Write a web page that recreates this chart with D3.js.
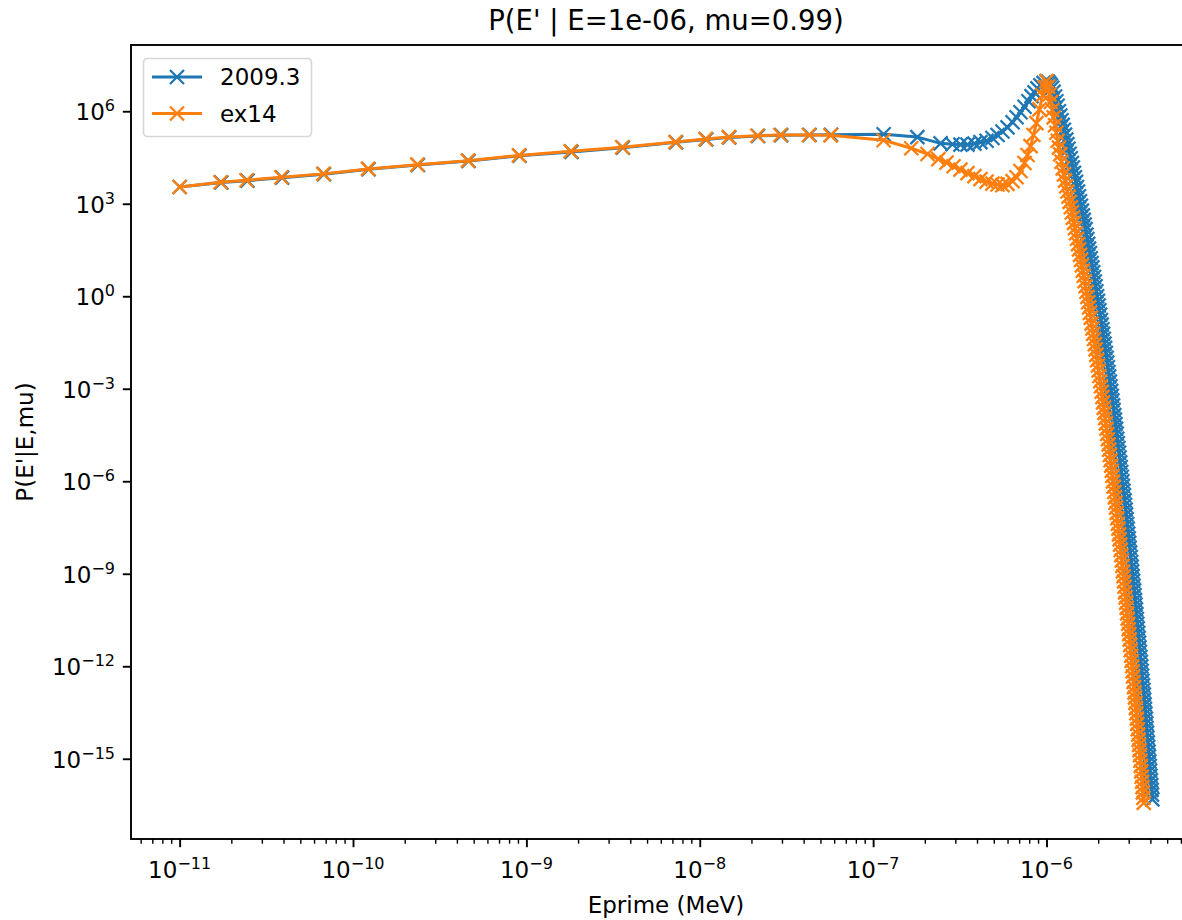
<!DOCTYPE html>
<html><head><meta charset="utf-8">
<script src="https://cdn.jsdelivr.net/npm/d3@7"></script>
<style>
body{margin:0;background:#fff}
svg{display:block}
text{font-family:"DejaVu Sans",sans-serif;fill:#000}
</style>
</head><body>
<svg id="chart" width="1182" height="920"></svg>
<script>
// ---------------- data ----------------
const seriesNames = ["2009.3", "ex14"];
const seriesColors = ["#1f77b4", "#ff7f0e"];

const energy2009 = [
  1.0e-11, 1.74e-11, 2.46e-11, 3.9e-11, 6.8e-11, 1.23e-10, 2.37e-10, 4.64e-10, 9.14e-10, 1.82e-9,
  3.6e-9, 7.3e-9, 1.09e-8, 1.48e-8, 2.17e-8, 2.95e-8, 4.3e-8, 5.72e-8,
  1.15e-7, 1.80e-7, 2.45e-7, 2.87e-7, 3.19e-7, 3.50e-7, 3.84e-7, 4.16e-7, 4.51e-7, 4.88e-7,
  5.22e-7, 5.57e-7, 5.96e-7, 6.37e-7, 6.72e-7, 7.08e-7, 7.47e-7, 7.87e-7, 8.19e-7, 8.53e-7,
  8.87e-7, 9.23e-7, 9.61e-7, 1.0e-6,
  1.02e-6, 1.04e-6, 1.06e-6, 1.08e-6, 1.10e-6, 1.12e-6, 1.14e-6, 1.16e-6, 1.18e-6, 1.20e-6,
  1.22e-6, 1.24e-6, 1.26e-6, 1.28e-6, 1.30e-6, 1.32e-6, 1.34e-6, 1.36e-6, 1.38e-6, 1.40e-6,
  1.42e-6, 1.44e-6, 1.46e-6, 1.48e-6, 1.50e-6, 1.52e-6, 1.54e-6, 1.56e-6, 1.58e-6, 1.60e-6,
  1.62e-6, 1.64e-6, 1.66e-6, 1.68e-6, 1.70e-6, 1.72e-6, 1.74e-6, 1.76e-6, 1.78e-6, 1.80e-6,
  1.82e-6, 1.84e-6, 1.86e-6, 1.88e-6, 1.90e-6, 1.92e-6, 1.94e-6, 1.96e-6, 1.98e-6, 2.00e-6,
  2.02e-6, 2.04e-6, 2.06e-6, 2.08e-6, 2.10e-6, 2.12e-6, 2.14e-6, 2.16e-6, 2.18e-6, 2.20e-6,
  2.22e-6, 2.24e-6, 2.26e-6, 2.28e-6, 2.30e-6, 2.32e-6, 2.34e-6, 2.36e-6, 2.38e-6, 2.40e-6,
  2.42e-6, 2.44e-6, 2.46e-6, 2.48e-6, 2.50e-6, 2.52e-6, 2.54e-6, 2.56e-6, 2.58e-6, 2.60e-6,
  2.62e-6, 2.64e-6, 2.66e-6, 2.68e-6, 2.70e-6, 2.72e-6, 2.74e-6, 2.76e-6, 2.78e-6, 2.80e-6,
  2.82e-6, 2.84e-6, 2.86e-6, 2.88e-6, 2.90e-6, 2.92e-6, 2.94e-6, 2.96e-6, 2.98e-6, 3.00e-6,
  3.02e-6, 3.04e-6, 3.06e-6, 3.08e-6, 3.10e-6, 3.12e-6, 3.14e-6, 3.16e-6, 3.18e-6, 3.20e-6,
  3.22e-6, 3.24e-6, 3.26e-6, 3.28e-6, 3.30e-6, 3.32e-6, 3.34e-6, 3.36e-6, 3.38e-6, 3.40e-6,
  3.42e-6, 3.44e-6, 3.46e-6, 3.48e-6, 3.50e-6, 3.52e-6, 3.54e-6, 3.56e-6, 3.58e-6, 3.60e-6,
  3.62e-6, 3.64e-6, 3.66e-6, 3.68e-6, 3.70e-6, 3.72e-6, 3.74e-6, 3.76e-6, 3.78e-6, 3.80e-6,
  3.82e-6, 3.84e-6, 3.86e-6, 3.88e-6, 3.90e-6, 3.92e-6, 3.94e-6, 3.96e-6, 3.98e-6, 4.00e-6,
  4.02e-6, 4.04e-6, 4.06e-6, 4.08e-6
];
const prob2009 = [
  3.5e3, 4.9e3, 5.6e3, 7.0e3, 9.1e3, 1.32e4, 1.8e4, 2.45e4, 3.6e4, 4.8e4,
  6.6e4, 9.8e4, 1.22e5, 1.42e5, 1.58e5, 1.68e5, 1.7e5, 1.72e5,
  1.8e5, 1.45e5, 9.1e4, 8.5e4, 8.3e4, 8.3e4, 8.9e4, 1.0e5, 1.1e5, 1.35e5,
  1.7e5, 2.2e5, 3.0e5, 4.4e5, 6.4e5, 9.3e5, 1.4e6, 2.1e6, 3.1e6, 4.1e6,
  5.5e6, 6.9e6, 8.3e6, 9.3e6,
  9.1e6, 7.9e6, 6.9e6, 5.8e6, 4.3e6,
  3.0e6, 2.1e6, 1.5e6, 1.0e6, 7.2e5, 5.1e5, 3.6e5, 2.5e5, 1.75e5, 1.2e5,
  8.6e4, 6.1e4, 4.2e4, 3.0e4, 2.1e4, 1.5e4, 1.0e4, 7.2e3, 5.1e3, 3.5e3,
  2.5e3, 1.75e3, 1.2e3, 8.6e2, 6.0e2, 4.2e2, 3.0e2, 2.1e2, 1.5e2, 1.0e2,
  72, 50, 35, 25, 17, 12, 8.6, 6.0, 4.2, 3.0,
  2.1, 1.45, 1.0, 0.71, 0.50, 0.35, 0.25, 0.17, 0.12, 0.085,
  0.060, 0.042, 0.029, 0.021, 0.0145, 0.010, 7.1e-3, 5.0e-3, 3.5e-3, 2.5e-3,
  1.7e-3, 1.2e-3, 8.5e-4, 5.9e-4, 4.2e-4, 2.9e-4, 2.05e-4, 1.4e-4, 1.0e-4, 7.1e-5,
  5.0e-5, 3.5e-5, 2.4e-5, 1.7e-5, 1.2e-5, 8.4e-6, 5.9e-6, 4.1e-6, 2.9e-6, 2.0e-6,
  1.4e-6, 1.0e-6, 7.0e-7, 4.9e-7, 3.5e-7, 2.4e-7, 1.7e-7, 1.2e-7, 8.4e-8, 5.9e-8,
  4.1e-8, 2.9e-8, 2.0e-8, 1.4e-8, 1.0e-8, 7.0e-9, 4.9e-9, 3.5e-9, 2.4e-9, 1.7e-9,
  1.2e-9, 8.4e-10, 5.9e-10, 4.1e-10, 2.9e-10, 2.0e-10, 1.4e-10, 1.0e-10, 7.0e-11, 4.9e-11,
  3.4e-11, 2.4e-11, 1.7e-11, 1.2e-11, 8.3e-12, 5.8e-12, 4.1e-12, 2.9e-12, 2.0e-12, 1.4e-12,
  9.9e-13, 7.0e-13, 4.9e-13, 3.4e-13, 2.4e-13, 1.7e-13, 1.2e-13, 8.3e-14, 5.8e-14, 4.1e-14,
  2.9e-14, 2.0e-14, 1.4e-14, 9.9e-15, 6.9e-15, 4.9e-15, 3.4e-15, 2.4e-15, 1.7e-15, 1.2e-15,
  8.2e-16, 5.8e-16, 4.1e-16, 2.8e-16, 2.0e-16, 1.4e-16, 9.8e-17, 6.9e-17, 4.8e-17
];

const energyEx14 = [
  1.0e-11, 1.72e-11, 2.43e-11, 3.86e-11, 6.74e-11, 1.22e-10, 2.35e-10, 4.60e-10, 9.06e-10, 1.80e-9,
  3.57e-9, 7.24e-9, 1.08e-8, 1.47e-8, 2.15e-8, 2.92e-8, 4.26e-8, 5.68e-8,
  1.15e-7, 1.66e-7, 2.06e-7, 2.38e-7, 2.65e-7, 2.91e-7, 3.19e-7, 3.50e-7, 3.84e-7, 4.16e-7,
  4.51e-7, 4.88e-7, 5.22e-7, 5.57e-7, 5.96e-7, 6.37e-7, 6.72e-7, 7.08e-7, 7.47e-7, 7.77e-7,
  8.09e-7, 8.41e-7, 8.75e-7, 9.11e-7, 9.49e-7, 9.74e-7, 1.0e-6,
  1.02e-6, 1.04e-6, 1.06e-6, 1.08e-6, 1.10e-6, 1.12e-6, 1.14e-6, 1.16e-6, 1.18e-6, 1.20e-6,
  1.22e-6, 1.24e-6, 1.26e-6, 1.28e-6, 1.30e-6, 1.32e-6, 1.34e-6, 1.36e-6, 1.38e-6, 1.40e-6,
  1.42e-6, 1.44e-6, 1.46e-6, 1.48e-6, 1.50e-6, 1.52e-6, 1.54e-6, 1.56e-6, 1.58e-6, 1.60e-6,
  1.62e-6, 1.64e-6, 1.66e-6, 1.68e-6, 1.70e-6, 1.72e-6, 1.74e-6, 1.76e-6, 1.78e-6, 1.80e-6,
  1.82e-6, 1.84e-6, 1.86e-6, 1.88e-6, 1.90e-6, 1.92e-6, 1.94e-6, 1.96e-6, 1.98e-6, 2.00e-6,
  2.02e-6, 2.04e-6, 2.06e-6, 2.08e-6, 2.10e-6, 2.12e-6, 2.14e-6, 2.16e-6, 2.18e-6, 2.20e-6,
  2.22e-6, 2.24e-6, 2.26e-6, 2.28e-6, 2.30e-6, 2.32e-6, 2.34e-6, 2.36e-6, 2.38e-6, 2.40e-6,
  2.42e-6, 2.44e-6, 2.46e-6, 2.48e-6, 2.50e-6, 2.52e-6, 2.54e-6, 2.56e-6, 2.58e-6, 2.60e-6,
  2.62e-6, 2.64e-6, 2.66e-6, 2.68e-6, 2.70e-6, 2.72e-6, 2.74e-6, 2.76e-6, 2.78e-6, 2.80e-6,
  2.82e-6, 2.84e-6, 2.86e-6, 2.88e-6, 2.90e-6, 2.92e-6, 2.94e-6, 2.96e-6, 2.98e-6, 3.00e-6,
  3.02e-6, 3.04e-6, 3.06e-6, 3.08e-6, 3.10e-6, 3.12e-6, 3.14e-6, 3.16e-6, 3.18e-6, 3.20e-6,
  3.22e-6, 3.24e-6, 3.26e-6, 3.28e-6, 3.30e-6, 3.32e-6, 3.34e-6, 3.36e-6, 3.38e-6, 3.40e-6,
  3.42e-6, 3.44e-6, 3.46e-6, 3.48e-6, 3.50e-6, 3.52e-6, 3.54e-6, 3.56e-6, 3.58e-6, 3.60e-6,
  3.62e-6, 3.64e-6
];
const probEx14 = [
  3.5e3, 5.0e3, 5.8e3, 7.2e3, 9.3e3, 1.35e4, 1.85e4, 2.5e4, 3.7e4, 5.0e4,
  6.8e4, 1.0e5, 1.25e5, 1.45e5, 1.6e5, 1.7e5, 1.7e5, 1.65e5,
  1.15e5, 6.3e4, 4.1e4, 2.8e4, 2.15e4, 1.65e4, 1.28e4, 9.8e3, 7.9e3, 6.3e3,
  5.2e3, 4.5e3, 4.2e3, 4.0e3, 4.4e3, 5.4e3, 7.2e3, 1.15e4, 2.1e4, 3.8e4,
  7.4e4, 1.7e5, 4.1e5, 1.15e6, 3.3e6, 6.0e6, 9.5e6,
  6.3e6, 3.5e6, 2.0e6, 1.1e6, 6.3e5, 3.5e5, 2.0e5, 1.1e5, 6.6e4, 4.0e4,
  2.3e4, 1.4e4, 8.9e3, 5.6e3, 3.7e3, 2.5e3,
  1.7e3, 1.15e3, 7.7e2, 5.2e2, 3.5e2, 2.4e2, 1.6e2, 1.1e2, 73, 49,
  33, 22, 15, 10, 6.8, 4.6, 3.1, 2.1, 1.4, 0.95,
  0.64, 0.43, 0.29, 0.20, 0.13, 0.090, 0.061, 0.041, 0.028, 0.019,
  0.0126, 8.5e-3, 5.7e-3, 3.9e-3, 2.6e-3, 1.75e-3, 1.2e-3, 8.0e-4, 5.4e-4, 3.6e-4,
  2.4e-4, 1.65e-4, 1.1e-4, 7.5e-5, 5.1e-5, 3.4e-5, 2.3e-5, 1.55e-5, 1.05e-5, 7.1e-6,
  4.8e-6, 3.2e-6, 2.2e-6, 1.5e-6, 9.9e-7, 6.7e-7, 4.5e-7, 3.0e-7, 2.0e-7, 1.4e-7,
  9.3e-8, 6.3e-8, 4.2e-8, 2.9e-8, 1.9e-8, 1.3e-8, 8.8e-9, 5.9e-9, 4.0e-9, 2.7e-9,
  1.8e-9, 1.2e-9, 8.3e-10, 5.6e-10, 3.8e-10, 2.5e-10, 1.7e-10, 1.15e-10, 7.8e-11, 5.2e-11,
  3.5e-11, 2.4e-11, 1.6e-11, 1.1e-11, 7.3e-12, 4.9e-12, 3.3e-12, 2.2e-12, 1.5e-12, 1.0e-12,
  6.9e-13, 4.7e-13, 3.1e-13, 2.1e-13, 1.4e-13, 9.6e-14, 6.5e-14, 4.4e-14, 3.0e-14, 2.0e-14,
  1.35e-14, 9.1e-15, 6.1e-15, 4.1e-15, 2.8e-15, 1.9e-15, 1.3e-15, 8.6e-16, 5.8e-16, 3.9e-16,
  2.6e-16, 1.8e-16, 1.2e-16, 8.1e-17, 5.4e-17, 3.7e-17
];

const xTickExponents = [-11, -10, -9, -8, -7, -6];
const yTickExponents = [-15, -12, -9, -6, -3, 0, 3, 6];
const titleText = "P(E' | E=1e-06, mu=0.99)";
const xLabelText = "Eprime (MeV)";
const yLabelText = "P(E'|E,mu)";

// ---------------- layout ----------------
const plot = {left: 131, top: 45, right: 1201, bottom: 839};
const fontSize = 23, supSize = 16;

function padLog(vals) {
  const lo = Math.log10(d3.min(vals)), hi = Math.log10(d3.max(vals));
  const p = (hi - lo) * 0.05;
  return [Math.pow(10, lo - p), Math.pow(10, hi + p)];
}

const x = d3.scaleLog().domain(padLog(energy2009.concat(energyEx14))).range([plot.left, plot.right]);
const y = d3.scaleLog().domain(padLog(prob2009.concat(probEx14))).range([plot.bottom, plot.top]);

const svg = d3.select("#chart");

svg.append("defs").append("clipPath").attr("id", "clip")
  .append("rect").attr("x", plot.left).attr("y", plot.top)
  .attr("width", plot.right - plot.left).attr("height", plot.bottom - plot.top);

// series
const series = [
  {name: seriesNames[0], color: seriesColors[0], e: energy2009, p: prob2009},
  {name: seriesNames[1], color: seriesColors[1], e: energyEx14, p: probEx14}
];
const line = d3.line().x(d => x(d[0])).y(d => y(d[1]));
const markerPath = "M-7,-7L7,7M-7,7L7,-7";

const plotG = svg.append("g").attr("clip-path", "url(#clip)");
series.forEach(s => {
  const pts = s.e.map((e, i) => [e, s.p[i]]);
  const g = plotG.append("g");
  g.append("path").datum(pts).attr("d", line)
    .attr("fill", "none").attr("stroke", s.color).attr("stroke-width", 3)
    .attr("stroke-linejoin", "round").attr("stroke-linecap", "round");
  g.selectAll("path.m").data(pts).enter().append("path").attr("class", "m")
    .attr("d", markerPath)
    .attr("transform", d => `translate(${x(d[0])},${y(d[1])})`)
    .attr("stroke", s.color).attr("stroke-width", 2.3).attr("fill", "none")
    .attr("stroke-linecap", "butt");
});

// spines
svg.append("rect").attr("x", plot.left).attr("y", plot.top)
  .attr("width", plot.right - plot.left).attr("height", plot.bottom - plot.top)
  .attr("fill", "none").attr("stroke", "#000").attr("stroke-width", 1.9);

// x axis (major)
const xAxis = d3.axisBottom(x).tickValues(xTickExponents.map(k => Math.pow(10, k)))
  .tickSize(8.2).tickPadding(0).tickFormat(() => "");
const xg = svg.append("g").attr("transform", `translate(0,${plot.bottom})`).call(xAxis);
xg.select(".domain").remove();
xg.selectAll(".tick line").attr("stroke", "#000").attr("stroke-width", 1.9);

// x minor ticks
const xMinor = [];
const xd = x.domain();
for (let k = -13; k <= -5; k++) for (let m = 2; m <= 9; m++) {
  const v = m * Math.pow(10, k);
  if (v >= xd[0] && v <= xd[1]) xMinor.push(v);
}
svg.append("g").selectAll("line").data(xMinor).enter().append("line")
  .attr("x1", d => x(d)).attr("x2", d => x(d))
  .attr("y1", plot.bottom).attr("y2", plot.bottom + 4.7)
  .attr("stroke", "#000").attr("stroke-width", 1.4);

// x tick labels
xTickExponents.forEach(k => {
  const t = svg.append("text").attr("x", x(Math.pow(10, k))).attr("y", 878)
    .attr("text-anchor", "middle").style("font-size", fontSize + "px");
  t.append("tspan").text("10");
  t.append("tspan").attr("dy", -9).style("font-size", supSize + "px").text("\u2212" + Math.abs(k));
});

// y axis (major)
const yAxis = d3.axisLeft(y).tickValues(yTickExponents.map(k => Math.pow(10, k)))
  .tickSize(8.2).tickFormat(() => "");
const yg = svg.append("g").attr("transform", `translate(${plot.left},0)`).call(yAxis);
yg.select(".domain").remove();
yg.selectAll(".tick line").attr("stroke", "#000").attr("stroke-width", 1.9);

yTickExponents.forEach(k => {
  const t = svg.append("text").attr("x", 115).attr("y", y(Math.pow(10, k)) + 9)
    .attr("text-anchor", "end").style("font-size", fontSize + "px");
  t.append("tspan").text("10");
  t.append("tspan").attr("dy", -9).style("font-size", supSize + "px")
    .text(k < 0 ? "\u2212" + Math.abs(k) : String(k));
});

// title and labels
svg.append("text").attr("x", (plot.left + plot.right) / 2).attr("y", 30)
  .attr("text-anchor", "middle").style("font-size", "27.5px").text(titleText);
svg.append("text").attr("x", (plot.left + plot.right) / 2).attr("y", 913)
  .attr("text-anchor", "middle").style("font-size", fontSize + "px").text(xLabelText);
svg.append("text").attr("transform", `translate(33,${(plot.top + plot.bottom) / 2}) rotate(-90)`)
  .attr("text-anchor", "middle").style("font-size", fontSize + "px").text(yLabelText);

// legend
const lg = svg.append("g");
lg.append("rect").attr("x", 143.5).attr("y", 58.5).attr("width", 168).attr("height", 78).attr("rx", 4)
  .attr("fill", "#fff").attr("fill-opacity", 0.8).attr("stroke", "#d6d6d6").attr("stroke-width", 1.6);
series.forEach((s, i) => {
  const cy = 77 + i * 36.5;
  lg.append("line").attr("x1", 152).attr("x2", 202).attr("y1", cy).attr("y2", cy)
    .attr("stroke", s.color).attr("stroke-width", 3);
  lg.append("path").attr("d", markerPath).attr("transform", `translate(177,${cy})`)
    .attr("stroke", s.color).attr("stroke-width", 2.3).attr("fill", "none");
  lg.append("text").attr("x", 220).attr("y", cy + 8).style("font-size", fontSize + "px").text(s.name);
});
</script>
</body></html>
